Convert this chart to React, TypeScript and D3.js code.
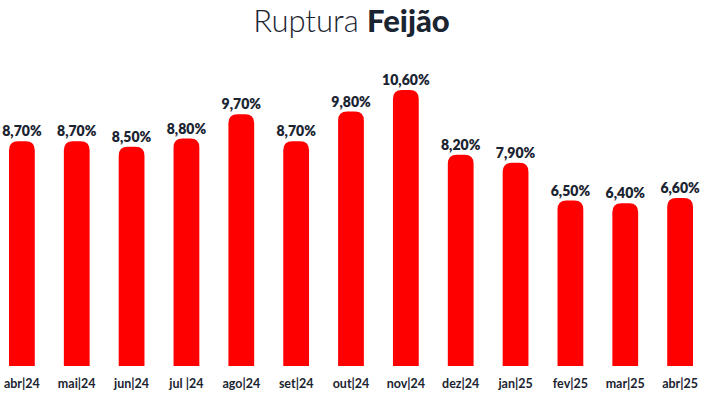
import { useEffect, useRef } from "react";
import * as d3 from "d3";

const months = [
  "abr|24", "mai|24", "jun|24", "jul |24", "ago|24", "set|24", "out|24",
  "nov|24", "dez|24", "jan|25", "fev|25", "mar|25", "abr|25",
];
const ruptura = [8.7, 8.7, 8.5, 8.8, 9.7, 8.7, 9.8, 10.6, 8.2, 7.9, 6.5, 6.4, 6.6];

const fmt = (v: number) => v.toFixed(2).replace(".", ",") + "%";

const RupturaChart = () => {
  const svgRef = useRef<SVGSVGElement>(null);

  useEffect(() => {
    const svg = d3.select(svgRef.current);
    const width = 703;
    const height = 393;
    const baseY = 366;
    const font = "Lato, 'Open Sans', sans-serif";

    svg.selectAll("*").remove();

    const x = d3
      .scaleBand()
      .domain(months)
      .range([9, 693])
      .paddingInner(0.53)
      .paddingOuter(0);

    // baseline doesn't sit at zero in the original
    const y = d3.scaleLinear().domain([0.37, 10.6]).range([baseY, 90]);

    // titulo
    const title = svg
      .append("text")
      .attr("x", width / 2)
      .attr("y", 32)
      .attr("text-anchor", "middle")
      .attr("font-family", font)
      .attr("font-size", 31)
      .attr("fill", "#1b2431");
    title.append("tspan").attr("font-weight", 300).text("Ruptura ");
    title.append("tspan").attr("font-weight", 900).text("Feijão");

    const bw = x.bandwidth();
    const r = 9;
    const barPath = (d: number, i: number) => {
      const x0 = x(months[i])!;
      const y0 = y(d);
      const p = d3.path();
      p.moveTo(x0, baseY);
      p.lineTo(x0, y0 + r);
      p.quadraticCurveTo(x0, y0, x0 + r, y0);
      p.lineTo(x0 + bw - r, y0);
      p.quadraticCurveTo(x0 + bw, y0, x0 + bw, y0 + r);
      p.lineTo(x0 + bw, baseY);
      p.closePath();
      return p.toString();
    };

    svg
      .selectAll(".bar")
      .data(ruptura)
      .enter()
      .append("path")
      .attr("class", "bar")
      .attr("fill", "#ff0000")
      .attr("d", (d, i) => barPath(d, i));

    // valores
    svg
      .selectAll(".val")
      .data(ruptura)
      .enter()
      .append("text")
      .attr("class", "val")
      .attr("x", (d, i) => x(months[i])! + bw / 2)
      .attr("y", (d) => y(d) - 5)
      .attr("text-anchor", "middle")
      .attr("font-family", font)
      .attr("font-weight", 800)
      .attr("font-size", 14)
      .attr("fill", "#1b2431")
      .text((d) => fmt(d));

    // eixo x
    svg
      .selectAll(".lbl")
      .data(months)
      .enter()
      .append("text")
      .attr("class", "lbl")
      .attr("x", (d) => x(d)! + bw / 2)
      .attr("y", 388)
      .attr("text-anchor", "middle")
      .attr("font-family", font)
      .attr("font-weight", 700)
      .attr("font-size", 12.5)
      .attr("fill", "#1b2431")
      .text((d) => d);

    svg.attr("width", width).attr("height", height);
  }, []);

  return (
    <svg
      ref={svgRef}
      width={703}
      height={393}
      style={{ position: "absolute", left: 0, top: 0, background: "#fff" }}
    ></svg>
  );
};

export default function App() {
  return <RupturaChart />;
}
